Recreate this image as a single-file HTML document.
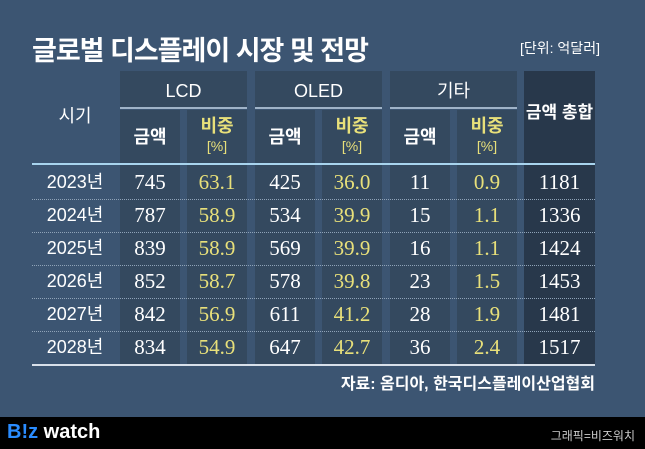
<!DOCTYPE html>
<html><head><meta charset="utf-8"><style>
body{margin:0;width:645px;height:449px;overflow:hidden;background:#3c5572;position:relative;font-family:"Liberation Sans","Noto Sans CJK KR",sans-serif;color:#fff}
.a{position:absolute}
.col{position:absolute;background:#34495f}
.tot{background:#28384b}
.h{position:absolute;text-align:center;font-size:18px;line-height:22px}
.c{position:absolute;text-align:center;font-family:"Liberation Serif",serif;font-size:21px;height:33px;line-height:33px}
.y{color:#e8e07a}
.dot{position:absolute;left:32px;width:563px;border-top:1px dotted #8fa3b8}
</style></head><body>
<div class="a" style="left:32px;top:29px;font-size:27px;font-weight:bold;letter-spacing:-1px">글로벌 디스플레이 시장 및 전망</div>
<div class="a" style="left:520px;top:38px;font-size:14px">[단위: 억달러]</div>
<div id="cols"></div>
<div class="h" style="left:32px;width:86px;top:105px">시기</div>
<div class="h" style="left:120px;width:127px;top:80px">LCD</div>
<div class="h" style="left:255px;width:127px;top:80px">OLED</div>
<div class="h" style="left:390px;width:127px;top:80px">기타</div>
<div class="h" style="left:524px;width:71px;top:102px;font-weight:bold;font-size:17px">금액 총합</div>
<div class="a" style="left:120px;width:127px;top:107px;border-top:2px solid #9fb3c8"></div>
<div class="a" style="left:255px;width:127px;top:107px;border-top:2px solid #9fb3c8"></div>
<div class="a" style="left:390px;width:127px;top:107px;border-top:2px solid #9fb3c8"></div>
<div id="subs"></div>
<div class="a" style="left:32px;width:563px;top:163px;border-top:2px solid #a8d4ee"></div>
<div id="rows"></div>
<div class="a" style="left:32px;width:563px;top:364px;border-top:2px solid #d8e0ea"></div>
<div class="a" style="right:50px;top:370px;font-size:16px;font-weight:bold">자료: 옴디아, 한국디스플레이산업협회</div>
<div class="a" style="left:0;top:417px;width:645px;height:32px;background:#000"></div>
<div class="a" style="left:7px;top:421px;font-size:20px;font-weight:bold"><span style="color:#2a8cff">B!z</span> watch</div>
<div class="a" style="right:10px;top:427px;font-size:12px;color:#ccc">그래픽=비즈워치</div>
<script>
const years=["2023년","2024년","2025년","2026년","2027년","2028년"];
const lcd=[745,787,839,852,842,834];
const lcdPct=["63.1","58.9","58.9","58.7","56.9","54.9"];
const oled=[425,534,569,578,611,647];
const oledPct=["36.0","39.9","39.9","39.8","41.2","42.7"];
const other=[11,15,16,23,28,36];
const otherPct=["0.9","1.1","1.1","1.5","1.9","2.4"];
const total=[1181,1336,1424,1453,1481,1517];
const X=[[120,60],[187,60],[255,60],[322,60],[390,60],[457,60],[524,71]];
const cols=document.getElementById('cols');
X.forEach((p,i)=>{const d=document.createElement('div');d.className='col'+(i==6?' tot':'');


const top=i==6?71:110;d.style.cssText=`left:${p[0]}px;width:${p[1]}px;top:${top}px;height:${364-top}px`;cols.appendChild(d);});
for(let g=0;g<3;g++){const d=document.createElement('div');d.className='col';


d.style.cssText=`left:${X[g*2][0]}px;width:127px;top:71px;height:36px`;cols.insertBefore(d,cols.firstChild);}
const subs=document.getElementById('subs');
for(let g=0;g<3;g++){const a=document.createElement('div');a.className='h';a.textContent='금액';


a.style.cssText=`left:${X[g*2][0]}px;width:60px;top:126px;font-weight:bold`;subs.appendChild(a);
const b=document.createElement('div');b.className='h y';b.innerHTML='<b>비중</b><br><span style="font-size:14px">[%]</span>';


b.style.cssText=`left:${X[g*2+1][0]}px;width:60px;top:117px;line-height:19px`;subs.appendChild(b);}
const rows=document.getElementById('rows');
years.forEach((y,r)=>{const top=166+r*33;
const vals=[lcd[r],lcdPct[r],oled[r],oledPct[r],other[r],otherPct[r],total[r]];
const yd=document.createElement('div');yd.className='c';yd.textContent=y;


yd.style.cssText=`left:32px;width:86px;top:${top}px;font-family:"Liberation Sans","Noto Sans CJK KR",sans-serif;font-size:18px`;rows.appendChild(yd);
vals.forEach((v,i)=>{const c=document.createElement('div');c.className='c'+(i<6&&i%2==1?' y':'');c.textContent=v;


c.style.cssText+=`left:${X[i][0]}px;width:${X[i][1]}px;top:${top}px`;rows.appendChild(c);});
if(r<5){const d=document.createElement('div');d.className='dot';


d.style.top=(top+33)+'px';rows.appendChild(d);}});
</script>
</body></html>
